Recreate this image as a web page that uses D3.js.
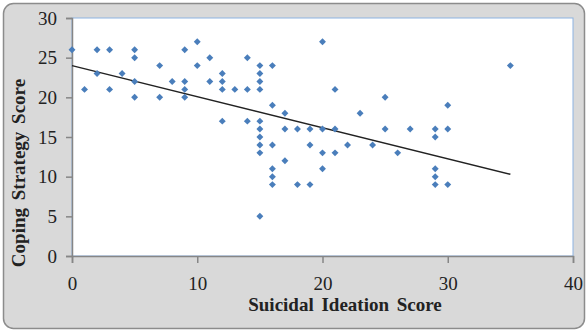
<!DOCTYPE html>
<html><head><meta charset="utf-8">
<script src="https://cdn.jsdelivr.net/npm/d3@7"></script>
<style>body{margin:0;background:#fff}svg{display:block}
svg text{font-family:"Liberation Serif","Times New Roman",serif !important;}</style>
</head><body>
<script>
const xValues = [0,1,2,2,3,3,4,5,5,5,5,7,7,8,9,9,9,9,10,10,11,11,12,12,12,12,13,14,14,14,15,15,15,15,15,15,15,15,15,15,16,16,16,16,16,16,17,17,17,18,18,19,19,19,20,20,20,20,21,21,21,22,23,24,25,25,26,27,29,29,29,29,29,30,30,30,35];
const yValues = [26,21,26,23,26,21,23,26,25,22,20,24,20,22,26,22,21,20,27,24,25,22,23,22,21,17,21,25,21,17,24,23,22,21,17,16,15,14,13,5,24,19,14,11,10,9,18,16,12,16,9,16,14,9,27,16,13,11,21,16,13,14,18,14,20,16,13,16,16,15,11,10,9,19,16,9,24];
const trendX = [0,35];
const trendY = [24.0,10.3];
const xTicks = [0,10,20,30,40];
const yTicks = [0,5,10,15,20,25,30];
const xTitle = "Suicidal Ideation Score";
const yTitle = "Coping Strategy Score";

const W=588,H=332;
const svg=d3.select("body").append("svg").attr("width",W).attr("height",H);
svg.append("rect").attr("x",3.5).attr("y",3.5).attr("width",581).attr("height",325).attr("rx",10)
  .attr("fill","#d9d9d9").attr("stroke","#8c8c8c").attr("stroke-width",1.5);
const L=72,R=573,T=18,B=256;
const x=d3.scaleLinear().domain([0,40]).range([L,R]);
const y=d3.scaleLinear().domain([0,30]).range([B,T]);
svg.append("rect").attr("x",L).attr("y",T).attr("width",R-L).attr("height",B-T).attr("fill","#fff")
  .attr("stroke","#8db3e2").attr("stroke-width",1);
const xa=svg.append("g").attr("transform",`translate(0,${B})`)
  .call(d3.axisBottom(x).tickValues(xTicks).tickSize(7).tickPadding(14));
const ya=svg.append("g").attr("transform",`translate(${L},0)`)
  .call(d3.axisLeft(y).tickValues(yTicks).tickSize(6).tickPadding(9));
[xa,ya].forEach(a=>{
  a.attr("font-family",null).attr("font-size",null);
  a.selectAll("path,line").attr("stroke","#868686").attr("stroke-width",1.5);
  a.selectAll("text").style("font-size","19px").attr("fill","#222");
});
svg.append("line").attr("x1",x(trendX[0])).attr("y1",y(trendY[0])).attr("x2",x(trendX[1])).attr("y2",y(trendY[1]))
  .attr("stroke","#222").attr("stroke-width",1.4);
const sym=d3.symbol().type(d3.symbolSquare).size(24);
svg.append("g").selectAll("path").data(xValues.map((v,i)=>[v,yValues[i]])).join("path")
  .attr("d",sym).attr("transform",d=>`translate(${x(d[0])},${y(d[1])}) rotate(45)`).attr("fill","#4a7ebb");
svg.append("text").attr("x",345).attr("y",311).attr("text-anchor","middle")
  .style("font-weight","bold").style("font-size","19px").style("word-spacing","3px").attr("fill","#222").text(xTitle);
svg.append("text").attr("transform","translate(25,173) rotate(-90)").attr("text-anchor","middle")
  .style("font-weight","bold").style("font-size","19px").style("word-spacing","3px").attr("fill","#222").text(yTitle);
</script>
</body></html>
